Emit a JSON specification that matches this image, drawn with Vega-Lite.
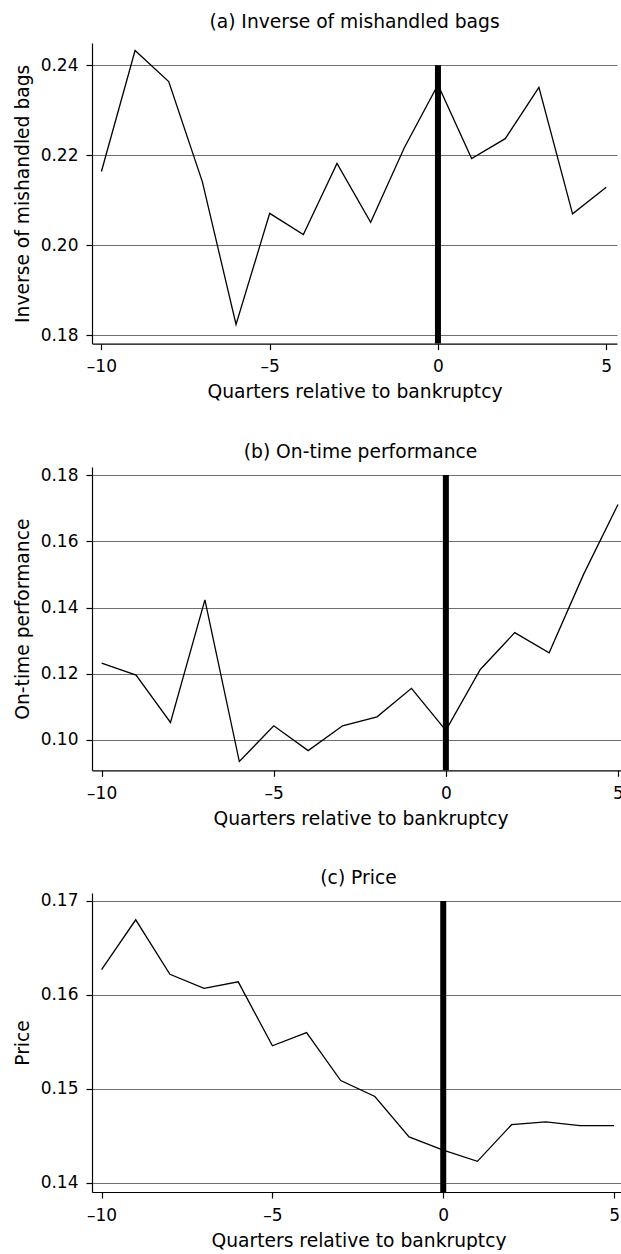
{
  "$schema": "https://vega.github.io/schema/vega-lite/v6.json",
  "padding": {"left": 13, "top": 13, "right": 0, "bottom": 0},
  "background": "white",
  "spacing": 41,
  "datasets": {
    "bags": [
      {"q": -10, "v": 0.2164}, {"q": -9, "v": 0.2433}, {"q": -8, "v": 0.2364}, {"q": -7, "v": 0.2141},
      {"q": -6, "v": 0.1824}, {"q": -5, "v": 0.2071}, {"q": -4, "v": 0.2024}, {"q": -3, "v": 0.2182},
      {"q": -2, "v": 0.2051}, {"q": -1, "v": 0.2217}, {"q": 0, "v": 0.2357}, {"q": 1, "v": 0.2193},
      {"q": 2, "v": 0.2237}, {"q": 3, "v": 0.2351}, {"q": 4, "v": 0.2070}, {"q": 5, "v": 0.2129}
    ],
    "ontime": [
      {"q": -10, "v": 0.1232}, {"q": -9, "v": 0.1196}, {"q": -8, "v": 0.1053}, {"q": -7, "v": 0.1423},
      {"q": -6, "v": 0.0935}, {"q": -5, "v": 0.1043}, {"q": -4, "v": 0.0968}, {"q": -3, "v": 0.1043},
      {"q": -2, "v": 0.1070}, {"q": -1, "v": 0.1156}, {"q": 0, "v": 0.1029}, {"q": 1, "v": 0.1213},
      {"q": 2, "v": 0.1324}, {"q": 3, "v": 0.1263}, {"q": 4, "v": 0.1500}, {"q": 5, "v": 0.1711}
    ],
    "price": [
      {"q": -10, "v": 0.1627}, {"q": -9, "v": 0.1680}, {"q": -8, "v": 0.1622}, {"q": -7, "v": 0.1607},
      {"q": -6, "v": 0.1614}, {"q": -5, "v": 0.1546}, {"q": -4, "v": 0.1560}, {"q": -3, "v": 0.1509},
      {"q": -2, "v": 0.1492}, {"q": -1, "v": 0.1449}, {"q": 0, "v": 0.1435}, {"q": 1, "v": 0.1423},
      {"q": 2, "v": 0.1462}, {"q": 3, "v": 0.1465}, {"q": 4, "v": 0.1461}, {"q": 5, "v": 0.1461}
    ],
    "event": [{"q": 0}]
  },
  "vconcat": [
    {
      "title": {"text": "(a) Inverse of mishandled bags", "offset": 11},
      "width": 525,
      "height": 300.6,
      "layer": [
        {
          "data": {"name": "bags"},
          "mark": {"type": "line", "color": "black", "strokeWidth": 1.3},
          "encoding": {
            "x": {"field": "q", "type": "quantitative", "scale": {"domain": [-10.28, 5.32], "nice": false, "zero": false},
                  "axis": {"title": "Quarters relative to bankruptcy", "values": [-10, -5, 0, 5], "grid": false,
                           "labelExpr": "datum.value < 0 ? '–' + abs(datum.value) : '' + datum.value"}},
            "y": {"field": "v", "type": "quantitative", "scale": {"domain": [0.17816, 0.24496], "nice": false, "zero": false},
                  "axis": {"title": "Inverse of mishandled bags", "values": [0.18, 0.20, 0.22, 0.24], "format": ".2f", "grid": true}}
          }
        },
        {
          "data": {"name": "event"},
          "mark": {"type": "rule", "color": "black", "strokeWidth": 6},
          "encoding": {
            "x": {"field": "q", "type": "quantitative"},
            "y": {"datum": 0.24},
            "y2": {"datum": 0.17816}
          }
        }
      ]
    },
    {
      "title": {"text": "(b) On-time performance", "offset": 4},
      "width": 537,
      "height": 303.3,
      "layer": [
        {
          "data": {"name": "ontime"},
          "mark": {"type": "line", "color": "black", "strokeWidth": 1.3},
          "encoding": {
            "x": {"field": "q", "type": "quantitative", "scale": {"domain": [-10.28, 5.32], "nice": false, "zero": false},
                  "axis": {"title": "Quarters relative to bankruptcy", "values": [-10, -5, 0, 5], "grid": false,
                           "labelExpr": "datum.value < 0 ? '–' + abs(datum.value) : '' + datum.value"}},
            "y": {"field": "v", "type": "quantitative", "scale": {"domain": [0.09085, 0.18242], "nice": false, "zero": false},
                  "axis": {"title": "On-time performance", "values": [0.10, 0.12, 0.14, 0.16, 0.18], "format": ".2f", "grid": true}}
          }
        },
        {
          "data": {"name": "event"},
          "mark": {"type": "rule", "color": "black", "strokeWidth": 6},
          "encoding": {
            "x": {"field": "q", "type": "quantitative"},
            "y": {"datum": 0.18},
            "y2": {"datum": 0.09085}
          }
        }
      ]
    },
    {
      "title": {"text": "(c) Price", "offset": 4},
      "width": 533,
      "height": 299,
      "layer": [
        {
          "data": {"name": "price"},
          "mark": {"type": "line", "color": "black", "strokeWidth": 1.3},
          "encoding": {
            "x": {"field": "q", "type": "quantitative", "scale": {"domain": [-10.28, 5.32], "nice": false, "zero": false},
                  "axis": {"title": "Quarters relative to bankruptcy", "values": [-10, -5, 0, 5], "grid": false,
                           "labelExpr": "datum.value < 0 ? '–' + abs(datum.value) : '' + datum.value"}},
            "y": {"field": "v", "type": "quantitative", "scale": {"domain": [0.13904, 0.17085], "nice": false, "zero": false},
                  "axis": {"title": "Price", "values": [0.14, 0.15, 0.16, 0.17], "format": ".2f", "grid": true}}
          }
        },
        {
          "data": {"name": "event"},
          "mark": {"type": "rule", "color": "black", "strokeWidth": 6},
          "encoding": {
            "x": {"field": "q", "type": "quantitative"},
            "y": {"datum": 0.17},
            "y2": {"datum": 0.13904}
          }
        }
      ]
    }
  ],
  "config": {
    "view": {"stroke": null},
    "title": {"font": "DejaVu Sans", "fontSize": 18.7, "fontWeight": "normal", "color": "black", "anchor": "middle"},
    "axis": {
      "labelFont": "DejaVu Sans", "labelFontSize": 17, "labelColor": "black",
      "titleFont": "DejaVu Sans", "titleFontSize": 18.7, "titleFontWeight": "normal", "titleColor": "black",
      "domainColor": "black", "domainWidth": 1.2, "tickColor": "black", "tickWidth": 1.2, "tickSize": 6,
      "gridColor": "#6f6f6f", "gridWidth": 1.2, "labelPadding": 8, "titlePadding": 8
    },
    "axisX": {"labelPadding": 9, "titlePadding": 8}
  }
}
